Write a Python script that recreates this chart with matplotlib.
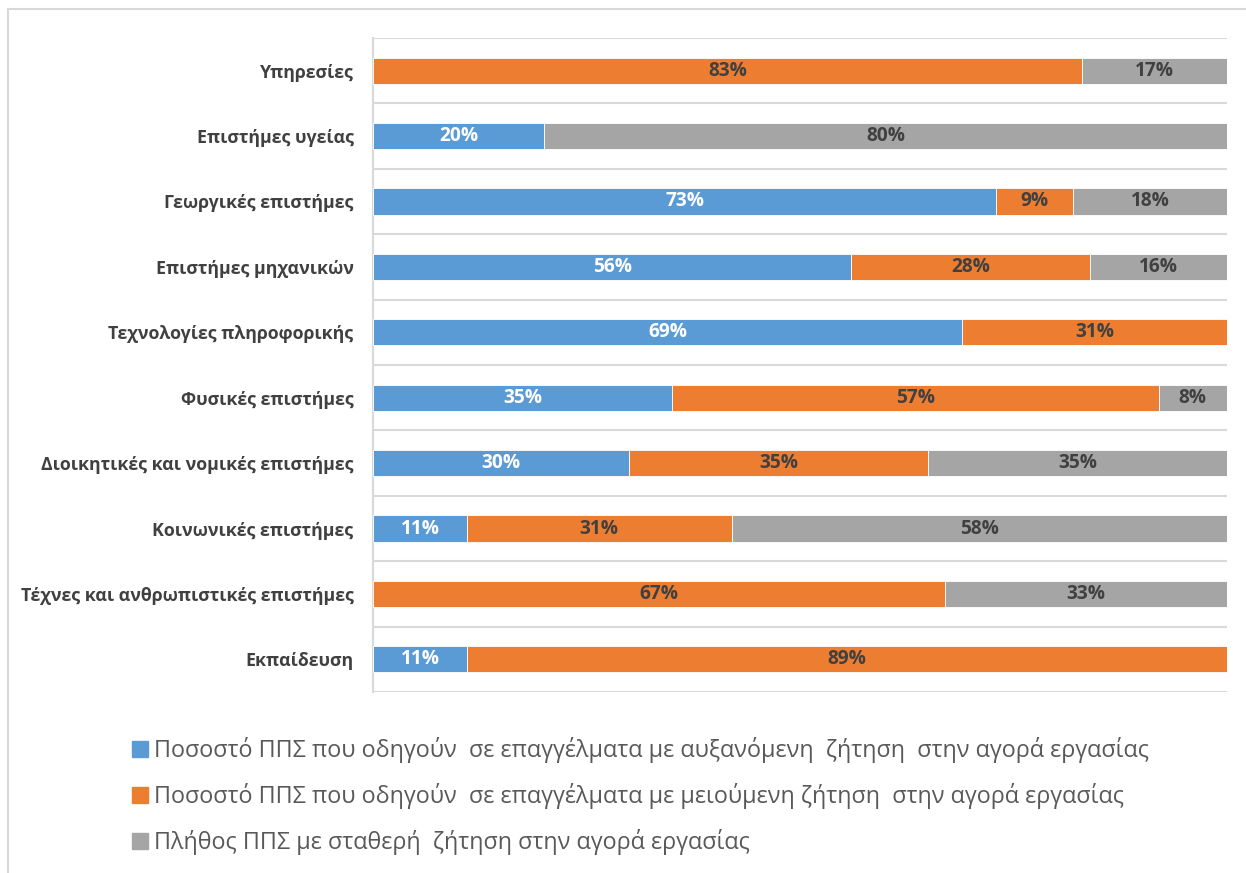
import numpy as np
import matplotlib.pyplot as plt
from matplotlib.patches import Rectangle
from matplotlib.lines import Line2D

# fields of study, top to bottom
fields = ['Υπηρεσίες', 'Επιστήμες υγείας', 'Γεωργικές επιστήμες',
          'Επιστήμες μηχανικών', 'Τεχνολογίες πληροφορικής', 'Φυσικές επιστήμες',
          'Διοικητικές και νομικές επιστήμες', 'Κοινωνικές επιστήμες',
          'Τέχνες και ανθρωπιστικές επιστήμες', 'Εκπαίδευση']

# shares (%) per field
increasing = [0, 20, 73, 56, 69, 35, 30, 11, 0, 11]
decreasing = [83, 0, 9, 28, 31, 57, 35, 31, 67, 89]
stable = [17, 80, 18, 16, 0, 8, 35, 58, 33, 0]

series_names = [
    'Ποσοστό ΠΠΣ που οδηγούν  σε επαγγέλματα με αυξανόμενη  ζήτηση  στην αγορά εργασίας',
    'Ποσοστό ΠΠΣ που οδηγούν  σε επαγγέλματα με μειούμενη ζήτηση  στην αγορά εργασίας',
    'Πλήθος ΠΠΣ με σταθερή  ζήτηση στην αγορά εργασίας',
]
colors = ['#5b9bd5', '#ed7d31', '#a5a5a5']
label_colors = ['white', '#404040', '#404040']

plt.rcParams['font.family'] = ['Open Sans', 'DejaVu Sans']

W, H = 1246, 873
fig = plt.figure(figsize=(W / 100, H / 100), dpi=100)

# chart frame
fig.patches.append(Rectangle((8 / W, -0.1), 1.2, 1 - 9 / H + 0.1,
                             transform=fig.transFigure, fill=False,
                             edgecolor='#d9d9d9', linewidth=1.5))

ax = fig.add_axes([373 / W, (873 - 692) / H, (1227 - 373) / W, (692 - 38) / H])

y = np.arange(len(fields))[::-1]
left = np.zeros(len(fields))
for vals, col, lc in zip([increasing, decreasing, stable], colors, label_colors):
    vals = np.array(vals, dtype=float)
    ax.barh(y, vals, left=left, height=0.4, color=col, edgecolor='white',
            linewidth=0.6, zorder=3)
    for yi, l, v in zip(y, left, vals):
        if v > 0:
            ax.text(l + v / 2, yi, f'{v:.0f}%', ha='center', va='center',
                    color=lc, fontsize=13.8, fontweight='bold', zorder=4)
    left += vals

ax.set_xlim(0, 100)
ax.set_ylim(-0.5, len(fields) - 0.5)
ax.set_yticks(y)
ax.set_yticklabels(fields, fontsize=12.8, fontweight='bold', color='#404040')
ax.tick_params(axis='y', length=0, pad=14)
ax.set_xticks([])
for k in range(len(fields) + 1):
    ax.axhline(k - 0.5, color='#d9d9d9', linewidth=1.5, zorder=1)
for s in ['top', 'right', 'bottom']:
    ax.spines[s].set_visible(False)
ax.spines['left'].set_color('#d9d9d9')
ax.spines['left'].set_linewidth(1.5)

# legend below the plot
handles = [Line2D([], [], marker='s', linestyle='', markersize=11,
                  markerfacecolor=c, markeredgecolor=c) for c in colors]
fig.legend(handles, series_names, loc='upper left',
           bbox_to_anchor=(124 / W, 1 - 728 / H), frameon=False,
           fontsize=16.8, labelcolor='#595959', handlelength=0.6,
           handletextpad=0.3, labelspacing=0.85, borderaxespad=0)

fig.savefig('out.png', dpi=100)
